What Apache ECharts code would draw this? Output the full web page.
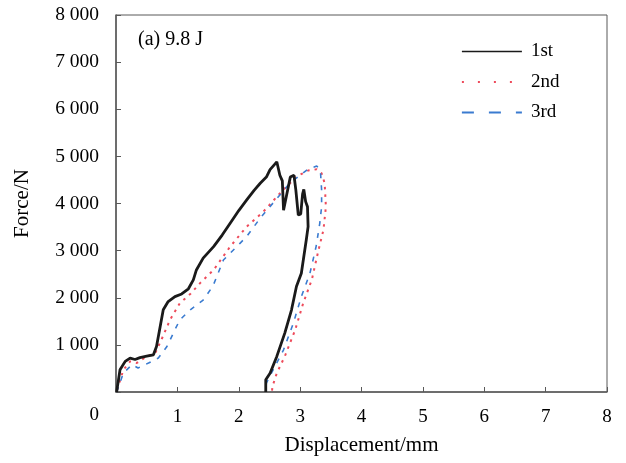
<!DOCTYPE html>
<html>
<head>
<meta charset="utf-8">
<script src="https://cdn.jsdelivr.net/npm/echarts@6/dist/echarts.min.js"></script>
<style>
  html, body { margin: 0; padding: 0; background: #fff; }
  #chart { width: 626px; height: 463px; }
</style>
</head>
<body>
<div id="chart"></div>
<script>
  // displacement (mm), force (N)
  const run1 = [
    [0.01, 0], [0.065, 470], [0.15, 650], [0.23, 720], [0.31, 690], [0.39, 730], [0.5, 760],
    [0.61, 790], [0.66, 966], [0.72, 1390], [0.77, 1745], [0.85, 1920], [0.96, 2025],
    [1.07, 2080], [1.18, 2190], [1.26, 2380], [1.31, 2590], [1.42, 2840], [1.59, 3085],
    [1.73, 3330], [1.86, 3580], [2.0, 3850], [2.13, 4075], [2.25, 4280], [2.35, 4430],
    [2.45, 4560], [2.51, 4720], [2.62, 4885], [2.65, 4870], [2.67, 4600], [2.71, 4480],
    [2.73, 3860], [2.78, 4180], [2.84, 4560], [2.9, 4600], [2.93, 4290], [2.97, 3755],
    [3.01, 3780], [3.04, 4200], [3.06, 4300], [3.09, 4040], [3.12, 3930], [3.13, 3510],
    [3.1, 3225], [3.02, 2520], [2.94, 2240], [2.86, 1745], [2.75, 1250], [2.62, 755],
    [2.51, 400], [2.44, 260], [2.44, 0]
  ];
  const run2 = [
    [0.02, 50], [0.12, 470], [0.23, 650], [0.34, 615], [0.5, 755], [0.64, 826], [0.74, 1110],
    [0.88, 1530], [1.04, 1885], [1.21, 2080], [1.37, 2310], [1.59, 2590], [1.86, 3085],
    [2.13, 3510], [2.4, 3825], [2.67, 4215], [2.94, 4570], [3.13, 4700], [3.27, 4725],
    [3.35, 4640], [3.4, 4430], [3.42, 3930], [3.38, 3440], [3.3, 3015], [3.19, 2380],
    [3.05, 1885], [2.92, 1320], [2.75, 755], [2.62, 400], [2.55, 120], [2.54, 0]
  ];
  const run3 = [
    [0.01, 0], [0.12, 400], [0.26, 580], [0.36, 510], [0.53, 615], [0.69, 720], [0.83, 966],
    [0.96, 1320], [1.04, 1530], [1.21, 1745], [1.42, 1950], [1.58, 2250], [1.75, 2800],
    [2.02, 3155], [2.13, 3300], [2.35, 3690], [2.67, 4180], [2.83, 4430], [3.13, 4730],
    [3.27, 4795], [3.33, 4710], [3.35, 4290], [3.35, 3930], [3.32, 3580], [3.26, 3085],
    [3.16, 2520], [3.02, 2025], [2.89, 1460], [2.73, 895], [2.56, 470], [2.45, 190], [2.44, 0]
  ];
  const seriesNames = ['1st', '2nd', '3rd'];
  const xTicks = [0, 8, 1];      // min, max, interval
  const yTicks = [0, 8000, 1000];

  const font = '"Liberation Serif", "Times New Roman", serif';
  const axisColor = '#595959';
  const chart = echarts.init(document.getElementById('chart'));

  chart.setOption({
    animation: false,
    grid: { left: 116, right: 19, top: 15, bottom: 71, show: true, borderColor: axisColor, borderWidth: 1 },
    xAxis: {
      type: 'value', min: xTicks[0], max: xTicks[1], interval: xTicks[2],
      name: 'Displacement/mm', nameLocation: 'middle', nameGap: 43,
      nameTextStyle: { fontFamily: font, fontSize: 21, color: '#000' },
      axisLine: { lineStyle: { color: axisColor, width: 1.5 } },
      axisTick: { inside: true, length: 5, lineStyle: { color: axisColor } },
      axisLabel: { margin: 16, fontFamily: font, fontSize: 19, color: '#000', formatter: (v) => v === 0 ? '' : String(v) },
      splitLine: { show: false }
    },
    yAxis: {
      type: 'value', min: yTicks[0], max: yTicks[1], interval: yTicks[2],
      name: 'Force/N', nameLocation: 'middle', nameGap: 83, nameRotate: 90,
      nameTextStyle: { fontFamily: font, fontSize: 21, color: '#000' },
      axisLine: { lineStyle: { color: axisColor, width: 1.5 } },
      axisTick: { inside: true, length: 5, lineStyle: { color: axisColor } },
      axisLabel: {
        margin: 17, fontFamily: font, fontSize: 19.5, color: '#000',
        formatter: (v) => v === 0 ? '' : String(v).replace(/\B(?=(\d{3})+(?!\d))/g, ' ')
      },
      splitLine: { show: false }
    },
    legend: {
      orient: 'vertical', left: 461, top: 42, padding: 0,
      itemWidth: 60, itemHeight: 16, itemGap: 11.5,
      itemStyle: { opacity: 0 },
      textStyle: { fontFamily: font, fontSize: 19, color: '#000', padding: [0, 0, 0, 4] },
      data: [
        { name: seriesNames[0], lineStyle: { width: 1.5 } },
        { name: seriesNames[1], lineStyle: { width: 1.8, type: [2, 14] } },
        { name: seriesNames[2], lineStyle: { width: 1.8, type: [12, 15] } }
      ]
    },
    graphic: [
      { type: 'text', left: 138, top: 30, style: { text: '(a) 9.8 J', fontFamily: font, fontSize: 20, fill: '#000' } },
      { type: 'text', right: 527, top: 406, style: { text: '0', fontFamily: font, fontSize: 19, fill: '#000' } }
    ],
    series: [
      {
        name: seriesNames[0], type: 'line', data: run1, symbol: 'none', z: 3,
        lineStyle: { color: '#1a1a1a', width: 2.8 }, itemStyle: { color: '#1a1a1a' }
      },
      {
        name: seriesNames[1], type: 'line', data: run2, symbol: 'none', z: 2,
        lineStyle: { color: '#ee4b5b', width: 2, type: [2.5, 5] }, itemStyle: { color: '#ee4b5b' }
      },
      {
        name: seriesNames[2], type: 'line', data: run3, symbol: 'none', z: 2,
        lineStyle: { color: '#3a7bd0', width: 1.6, type: [5, 7] }, itemStyle: { color: '#3a7bd0' }
      }
    ]
  });
</script>
</body>
</html>
